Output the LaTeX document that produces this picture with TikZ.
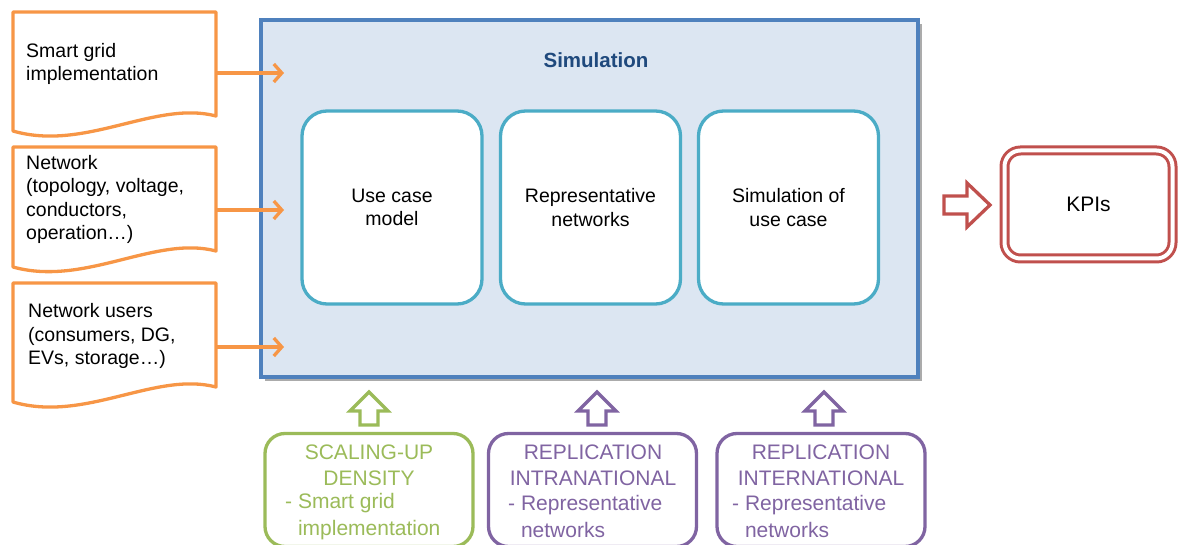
\documentclass[tikz,border=0pt]{standalone}
\usepackage{fontspec}
\setmainfont{Liberation Sans}
\usetikzlibrary{arrows.meta,shadows}
\definecolor{corange}{HTML}{F79646}
\definecolor{cblue}{HTML}{4F81BD}
\definecolor{cfill}{HTML}{DCE6F2}
\definecolor{ctitle}{HTML}{1F497D}
\definecolor{cteal}{HTML}{4BACC6}
\definecolor{cred}{HTML}{C0504D}
\definecolor{cgreen}{HTML}{9BBB59}
\definecolor{cpurple}{HTML}{8064A2}
\begin{document}
\begin{tikzpicture}[x=1pt,y=1pt,
  doc/.style={draw=corange,line width=3.3pt,fill=white,line join=round},
  doctext/.style={anchor=west,align=left,inner sep=0pt,font=\fontsize{19.5}{23.5}\selectfont},
  feed/.style={draw=corange,line width=3.3pt,-{Straight Barb[length=8pt,width=18pt]}},
  simbox/.style={draw=cblue,line width=3.8pt,fill=cfill,inner sep=0pt,
    drop shadow={shadow xshift=4pt,shadow yshift=-4pt,fill=black!60,opacity=0.55}},
  stagebox/.style={draw=cteal,line width=3.3pt,fill=white,rounded corners=25pt,
    minimum width=180pt,minimum height=193pt,inner sep=0pt,align=center,
    font=\fontsize{19.5}{23.5}\selectfont},
  kpibox/.style={draw=cred,line width=3pt,double=white,double distance=4pt,rounded corners=16pt,
    minimum width=168pt,minimum height=108pt,inner sep=0pt,font=\fontsize{21}{25}\selectfont},
  blockarrow/.style={line width=3.3pt,fill=white,line join=miter},
  scen/.style={line width=3.3pt,fill=white,rounded corners=20pt,minimum width=208pt,
    minimum height=113pt,inner sep=0pt},
  scentitle/.style={align=center,inner sep=0pt,font=\fontsize{21}{25.7}\selectfont},
  scenbullet/.style={anchor=west,align=left,inner sep=0pt,font=\fontsize{21}{26.5}\selectfont}
]
\useasboundingbox (0,0) rectangle (1178,-545);

% Simulation container
\node[simbox,minimum width=657pt,minimum height=357pt] (sim) at (589.5,-198.5) {};
\node[font=\bfseries\fontsize{20.5}{24}\selectfont,text=ctitle] (simtitle) at (596,-60) {Simulation};

\node[stagebox] (uc) at (392,-207.5) {Use case\\model};
\node[stagebox] (rn) at (590.5,-207.5) {Representative\\networks};
\node[stagebox] (su) at (788.5,-207.5) {Simulation of\\use case};

% Input documents
\draw[doc] (13,-12) -- (216,-12) -- (216,-116) .. controls (155,-100) and (85,-152) .. (13,-131) -- cycle;
\draw[doc] (13,-147) -- (216,-147) -- (216,-251) .. controls (155,-235) and (85,-287) .. (13,-267) -- cycle;
\draw[doc] (13,-283) -- (216,-283) -- (216,-387) .. controls (155,-371) and (85,-423) .. (13,-402) -- cycle;

\node[doctext] (t1) at (26,-64) {Smart grid\\implementation};
\node[doctext] (t2) at (26,-199.5) {Network\\(topology, voltage,\\conductors,\\operation…)};
\node[doctext] (t3) at (28,-336) {Network users\\(consumers, DG,\\EVs, storage…)};

\coordinate (d1) at (216,-73);
\coordinate (d2) at (216,-210);
\coordinate (d3) at (216,-347);
\coordinate (s1) at (284,-73);
\coordinate (s2) at (284,-210);
\coordinate (s3) at (284,-347);
\draw[feed] (d1) -- (s1);
\draw[feed] (d2) -- (s2);
\draw[feed] (d3) -- (s3);

% KPIs
\node[kpibox] (kpi) at (1088.5,-204.5) {KPIs};
\draw[blockarrow,draw=cred] (944,-196) -- (967,-196) -- (967,-183) -- (990,-205) -- (967,-227) -- (967,-214) -- (944,-214) -- cycle;

% Scenario boxes
\node[scen,draw=cgreen] (scale) at (369,-490) {};
\node[scen,draw=cpurple] (intra) at (592.5,-490) {};
\node[scen,draw=cpurple] (inter) at (821,-490) {};

\node[scentitle,text=cgreen] (scaleT) at (369,-465.5) {SCALING-UP\\DENSITY};
\node[scenbullet,text=cgreen] (scaleB) at (285,-516.5) {- Smart grid\\\phantom{- }implementation};
\node[scentitle,text=cpurple] (intraT) at (593,-465.5) {REPLICATION\\INTRANATIONAL};
\node[scenbullet,text=cpurple] (intraB) at (508,-516.5) {- Representative\\\phantom{- }networks};
\node[scentitle,text=cpurple] (interT) at (821,-465.5) {REPLICATION\\INTERNATIONAL};
\node[scenbullet,text=cpurple] (interB) at (732,-516.5) {- Representative\\\phantom{- }networks};

% Up block arrows
\draw[blockarrow,draw=cgreen] (360,-425) -- (360,-411) -- (350,-411) -- (369,-392) -- (388,-411) -- (378,-411) -- (378,-425) -- cycle;
\draw[blockarrow,draw=cpurple] (588,-425) -- (588,-411) -- (578,-411) -- (597,-392) -- (616,-411) -- (606,-411) -- (606,-425) -- cycle;
\draw[blockarrow,draw=cpurple] (815,-425) -- (815,-411) -- (805,-411) -- (824,-392) -- (843,-411) -- (833,-411) -- (833,-425) -- cycle;
\end{tikzpicture}
\end{document}
